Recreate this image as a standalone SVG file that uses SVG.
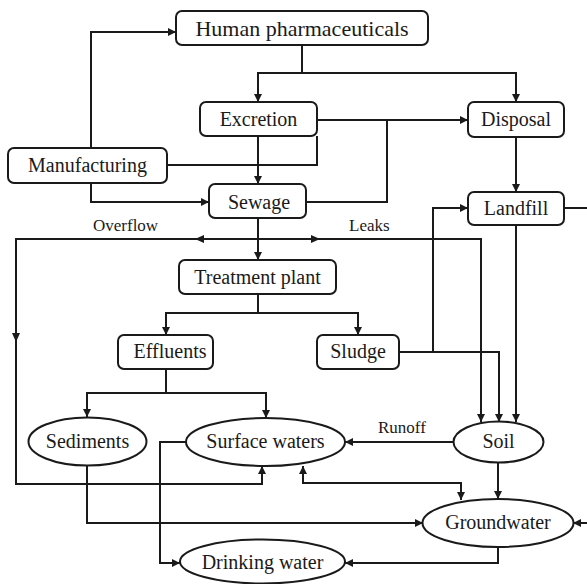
<svg xmlns="http://www.w3.org/2000/svg" width="587" height="584" viewBox="0 0 587 584">
<style>
.box{fill:#fff;stroke:#1a1a1a;stroke-width:2}
.t{font-family:"Liberation Serif","Times New Roman",serif;font-size:20px;fill:#1a1a1a;text-anchor:middle}
.big{font-size:22px}
.lbl{font-family:"Liberation Serif","Times New Roman",serif;font-size:17px;fill:#1a1a1a}
.c{fill:none;stroke:#1a1a1a;stroke-width:2}
.a{marker-end:url(#ah)}
.ah{fill:#1a1a1a}
</style>
<defs>
<marker id="ah" viewBox="0 0 10 10" refX="10" refY="5" markerWidth="9" markerHeight="8" markerUnits="userSpaceOnUse" orient="auto">
<path d="M0,0 L10,5 L0,10 z" fill="#1a1a1a"/>
</marker>
<marker id="ahs" viewBox="0 0 10 10" refX="10" refY="5" markerWidth="9" markerHeight="8" markerUnits="userSpaceOnUse" orient="auto-start-reverse">
<path d="M0,0 L10,5 L0,10 z" fill="#1a1a1a"/>
</marker>
</defs>
<rect width="587" height="584" fill="#fff"/>
<g id="connectors">
<path class="c a" d="M302,45 V73 H258 V102"/>
<path class="c a" d="M302,73 H516 V102"/>
<path class="c a" d="M91,148 V32 H176"/>
<path class="c a" d="M91,183 V202 H209"/>
<path class="c" d="M167,165 H317 V136"/>
<path class="c a" d="M258,136 V184"/>
<path class="c a" d="M317,120 H468"/>
<path class="c" d="M306,202 H387 V120"/>
<path class="c a" d="M516,137 V192"/>
<path class="c a" d="M258,218 V260"/>
<path class="c a" d="M258,239 H16 V484 H262 V466"/>
<path class="c a" d="M258,239 H481 V422"/>
<polygon class="ah" points="195,239 204,235 204,243"/>
<polygon class="ah" points="320,239 311,235 311,243"/>
<polygon class="ah" points="16,342 12,333 20,333"/>
<path class="c a" d="M258,294 V313 H166 V335"/>
<path class="c a" d="M258,313 H358 V335"/>
<path class="c a" d="M399,352 H499 V422"/>
<path class="c a" d="M433,352 V208 H468"/>
<path class="c a" d="M516,225 V422"/>
<path class="c a" d="M564,208 H592 V523 H573"/>
<path class="c a" d="M166,369 V393 H87 V417"/>
<path class="c a" d="M166,393 H266 V418"/>
<path class="c a" d="M453,442 H345"/>
<path class="c a" d="M186,442 H160 V563 H180"/>
<path class="c" style="marker-start:url(#ahs);marker-end:url(#ahs)" d="M303,466 V483 H461 V500"/>
<path class="c a" d="M498,462 V499"/>
<path class="c a" d="M87,466 V523 H423"/>
<path class="c a" d="M498,547 V563 H345"/>
<text class="lbl" x="93" y="231">Overflow</text>
<text class="lbl" x="349" y="231">Leaks</text>
<text class="lbl" x="378" y="433">Runoff</text>
</g>
<g id="human"><rect class="box" x="176" y="11" width="252" height="34" rx="6"/><text class="t big" x="302" y="36">Human pharmaceuticals</text></g>
<g id="excretion"><rect class="box" x="200" y="102" width="117" height="34" rx="6"/><text class="t" x="258.5" y="126">Excretion</text></g>
<g id="disposal"><rect class="box" x="468" y="102" width="96" height="35" rx="6"/><text class="t" x="516" y="126">Disposal</text></g>
<g id="manufacturing"><rect class="box" x="8" y="148" width="159" height="35" rx="6"/><text class="t" x="87.5" y="172">Manufacturing</text></g>
<g id="sewage"><rect class="box" x="209" y="184" width="97" height="34" rx="6"/><text class="t" x="259" y="209">Sewage</text></g>
<g id="landfill"><rect class="box" x="468" y="192" width="96" height="33" rx="6"/><text class="t" x="516" y="215">Landfill</text></g>
<g id="treatment"><rect class="box" x="179" y="260" width="157" height="34" rx="6"/><text class="t" x="257.5" y="284">Treatment plant</text></g>
<g id="effluents"><rect class="box" x="118" y="335" width="95" height="34" rx="6"/><text class="t" x="170" y="358">Effluents</text></g>
<g id="sludge"><rect class="box" x="317" y="335" width="82" height="34" rx="6"/><text class="t" x="358" y="358">Sludge</text></g>
<g id="sediments"><ellipse class="box" cx="87.5" cy="441.5" rx="59" ry="24"/><text class="t" x="87.5" y="448">Sediments</text></g>
<g id="surface"><ellipse class="box" cx="265.5" cy="442" rx="79.5" ry="24"/><text class="t" x="265.5" y="448">Surface waters</text></g>
<g id="soil"><ellipse class="box" cx="498.5" cy="442" rx="45" ry="20.5"/><text class="t" x="498.5" y="448">Soil</text></g>
<g id="groundwater"><ellipse class="box" cx="498" cy="523" rx="75.5" ry="24"/><text class="t" x="498" y="529">Groundwater</text></g>
<g id="drinking"><ellipse class="box" cx="262.5" cy="561.5" rx="82.5" ry="22"/><text class="t" x="262.5" y="569">Drinking water</text></g>
</svg>
